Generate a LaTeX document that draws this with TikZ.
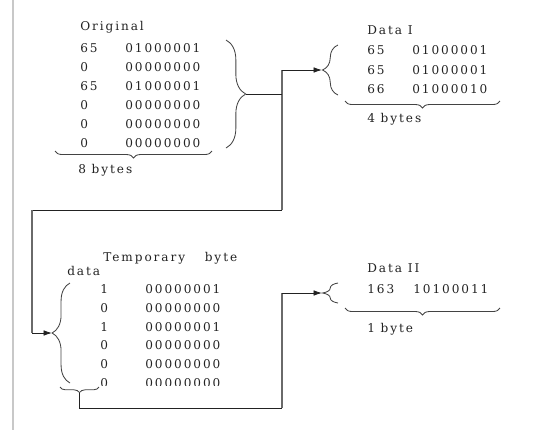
\documentclass[tikz,border=0pt]{standalone}
\usepackage{fontspec}
\setmainfont{DejaVu Serif}[LetterSpace=16]
\usetikzlibrary{arrows.meta,decorations.pathreplacing}
\definecolor{ink}{HTML}{222222}
\definecolor{trunkgray}{HTML}{6A6A6A}
\definecolor{rulegray}{HTML}{C8C8C8}

\tikzset{
  txt/.style={anchor=west, inner sep=0pt, font=\fontsize{8.6}{10}\selectfont, text=ink},
  brc/.style={decorate, decoration={brace, amplitude=#1}, draw=ink!85, line width=0.6pt},
  wire/.style={draw=ink, line width=0.6pt},
  trunk/.style={draw=trunkgray, line width=1.6pt},
  tip/.style={-{Latex[length=6pt,width=4pt]}}
}

\begin{document}
\begin{tikzpicture}[x=0.025cm, y=-0.025cm]
  \useasboundingbox (0,0) rectangle (540,430);
  \draw[rulegray, line width=1.5pt] (13,0) -- (13,430);

  % original bytes
  \node[txt] (origTitle) at (80,27) {Original};
  \foreach \n/\b [count=\i] in {65/01000001,0/00000000,65/01000001,0/00000000,0/00000000,0/00000000}
    {\node[txt] (origN\i) at (80,{29+19*\i}) {\n};
     \node[txt] (origB\i) at (125,{29+19*\i}) {\b};}
  \draw[brc=14pt] (226,40) -- (226,148);
  \draw[brc=5pt] (212,151) -- (55,151);
  \node[txt] (origSize) at (78,170) {8 bytes};

  % data I
  \node[txt] (oneTitle) at (367,30) {Data I};
  \foreach \n/\b [count=\i] in {65/01000001,65/01000001,66/01000010}
    {\node[txt] (oneN\i) at (367,{31+19.5*\i}) {\n};
     \node[txt] (oneB\i) at (412,{31+19.5*\i}) {\b};}
  \draw[brc=11pt] (338,95) -- (338,45);
  \draw[brc=5pt] (500,101) -- (345,101);
  \node[txt] (oneSize) at (367,119) {4 bytes};

  % temporary byte data
  \node[txt] (tempTitle) at (103,258) {Temporary\hspace{14pt}byte};
  \node[txt] (tempData) at (67,271) {data};
  \begin{scope}
    \clip (0,0) rectangle (540,385);
    \foreach \n/\b [count=\i] in {1/00000001,0/00000000,1/00000001,0/00000000,0/00000000,0/00000000}
      {\node[txt] (tempN\i) at (100,{270.2+18.8*\i}) {\n};
       \node[txt] (tempB\i) at (145,{270.2+18.8*\i}) {\b};}
  \end{scope}
  \draw[brc=12.7pt] (70,383) -- (70,283);
  \draw[brc=4pt] (99,387) -- (60,387);

  % data II
  \node[txt] (twoTitle) at (367,268) {Data II};
  \node[txt] (twoN1) at (367,289) {163};
  \node[txt] (twoB1) at (413,289) {10100011};
  \draw[brc=11pt] (338,303) -- (338,283);
  \draw[brc=5pt] (500,308) -- (345,308);
  \node[txt] (twoSize) at (367,329) {1 byte};

  % brace tips and bends
  \coordinate (origTip) at (246,94);
  \coordinate (oneTip) at (322,70);
  \coordinate (tempTip) at (52,333);
  \coordinate (tempFoot) at (79.5,393);
  \coordinate (twoTip) at (322,293);
  \coordinate (busTop) at (282,70);
  \coordinate (busBot) at (282,210);
  \coordinate (leftBus) at (32,210);
  \coordinate (loopBot) at (282,408);

  \draw[trunk] (busTop) -- (busBot);
  \draw[wire] (origTip) -- (origTip -| busTop);
  \draw[wire,tip] (busTop) -- (oneTip);
  \draw[wire] (busBot) -- (leftBus);
  \draw[trunk] (leftBus) -- (leftBus |- tempTip);
  \draw[wire,tip] (leftBus |- tempTip) -- (tempTip);
  \draw[wire] (tempFoot) |- (loopBot);
  \draw[trunk] (loopBot) -- (loopBot |- twoTip);
  \draw[wire,tip] (loopBot |- twoTip) -- (twoTip);
\end{tikzpicture}
\end{document}
